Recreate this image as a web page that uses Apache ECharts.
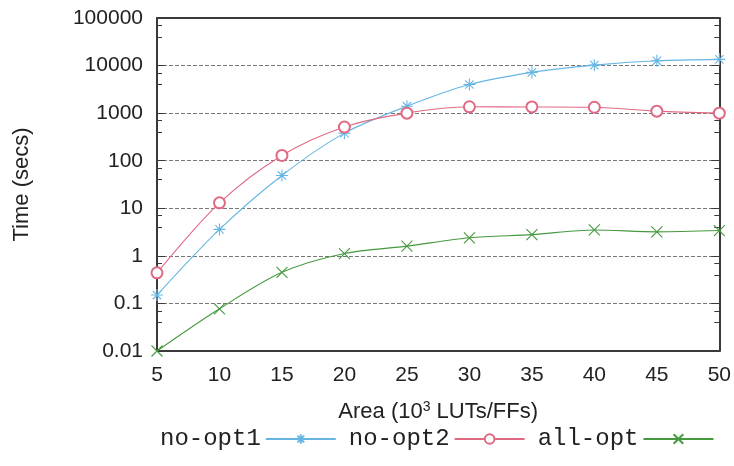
<!DOCTYPE html>
<html>
<head>
<meta charset="utf-8">
<script src="https://cdn.jsdelivr.net/npm/echarts@6/dist/echarts.min.js"></script>
<style>
  html, body { margin: 0; padding: 0; background: #fff; }
  #chart { width: 734px; height: 466px; }
</style>
</head>
<body>
<div id="chart"></div>
<script>
// Area in thousands of LUTs/FFs
const areas = [5, 10, 15, 20, 25, 30, 35, 40, 45, 50];

// Run time in seconds for each configuration
const noOpt1 = [0.15, 3.6, 49, 380, 1400, 4000, 7200, 10200, 12600, 13500];
const noOpt2 = [0.44, 13, 129, 510, 1000, 1360, 1350, 1330, 1100, 1000];
const allOpt = [0.01, 0.077, 0.45, 1.12, 1.6, 2.4, 2.8, 3.5, 3.2, 3.4];

const seriesNames = ['no-opt1', 'no-opt2', 'all-opt'];
const yTickValues = [0.01, 0.1, 1, 10, 100, 1000, 10000, 100000];

const colors = ['#66b6e4', '#e06a84', '#46993f'];
const asterisk = 'path://M5,0L5,10M0,5L10,5M1.5,1.5L8.5,8.5M1.5,8.5L8.5,1.5';
const cross = 'path://M0,0L10,10M0,10L10,0';

const pairs = ys => areas.map((x, i) => [x, ys[i]]);

const axisColor = '#3a3a3a';
const labelFont = { fontFamily: 'Liberation Sans, Arial, sans-serif', color: '#222' };

const chart = echarts.init(document.getElementById('chart'), null, { renderer: 'canvas' });

function lineSeries(name, data, color, symbol, size, stroked) {
  return {
    name: name,
    type: 'line',
    data: pairs(data),
    smooth: 0.3,
    symbol: symbol,
    symbolSize: size,
    showSymbol: true,
    lineStyle: { color: color, width: 1.1 },
    itemStyle: stroked
      ? { color: 'transparent', borderColor: color, borderWidth: 1.1 }
      : { color: color, borderColor: color, borderWidth: 1.1 },
    emphasis: { disabled: true },
    z: 3
  };
}

chart.setOption({
  animation: false,
  backgroundColor: '#fff',
  color: colors,
  grid: { left: 157, right: 14, top: 18, bottom: 115, containLabel: false },
  legend: {
    left: 155,
    top: 422,
    align: 'right',
    itemWidth: 70,
    itemHeight: 12,
    itemGap: 12,
    data: seriesNames,
    textStyle: {
      fontFamily: 'Liberation Mono, Courier New, monospace',
      fontSize: 24,
      color: '#222',
      padding: [0, 0, 0, 0]
    }
  },
  xAxis: [
    {
      type: 'value',
      min: 5,
      max: 50,
      interval: 5,
      position: 'bottom',
      name: 'Area (10{sup|3} LUTs/FFs)',
      nameLocation: 'middle',
      nameGap: 49,
      nameTextStyle: {
        fontFamily: 'Liberation Sans, Arial, sans-serif',
        fontSize: 22,
        color: '#222',
        rich: {
          sup: { fontSize: 14, verticalAlign: 'top', padding: [0, 0, 10, 0] }
        }
      },
      axisLine: { show: true, lineStyle: { color: axisColor, width: 2 } },
      axisTick: { show: false },
      axisLabel: Object.assign({ fontSize: 21, margin: 14 }, labelFont),
      splitLine: { show: false }
    },
    {
      type: 'value',
      min: 5,
      max: 50,
      position: 'top',
      axisLine: { show: true, lineStyle: { color: axisColor, width: 2 } },
      axisTick: { show: false },
      axisLabel: { show: false },
      splitLine: { show: false }
    }
  ],
  yAxis: [
    {
      type: 'log',
      logBase: 10,
      min: 0.01,
      max: 100000,
      splitNumber: 7,
      name: 'Time (secs)',
      nameLocation: 'middle',
      nameGap: 124,
      nameTextStyle: Object.assign({ fontSize: 22 }, labelFont),
      axisLine: { show: true, lineStyle: { color: axisColor, width: 2 } },
      axisTick: { show: true, inside: true, length: 8, lineStyle: { color: axisColor } },
      minorTick: { show: true, splitNumber: 3, length: 5, lineStyle: { color: axisColor } },
      axisLabel: Object.assign({
        fontSize: 21,
        margin: 14,
        formatter: v => {
          const match = yTickValues.find(t => Math.abs(Math.log10(t) - Math.log10(v)) < 1e-6);
          return match !== undefined ? String(match) : '';
        }
      }, labelFont),
      splitLine: { show: true, lineStyle: { color: '#777', width: 1, type: [4, 2] } }
    },
    {
      type: 'log',
      logBase: 10,
      min: 0.01,
      max: 100000,
      splitNumber: 7,
      position: 'right',
      axisLine: { show: true, lineStyle: { color: axisColor, width: 2 } },
      axisTick: { show: true, inside: true, length: 8, lineStyle: { color: axisColor } },
      minorTick: { show: true, splitNumber: 3, length: 5, lineStyle: { color: axisColor } },
      axisLabel: { show: false },
      splitLine: { show: false }
    }
  ],
  series: [
    lineSeries(seriesNames[0], noOpt1, colors[0], asterisk, 12, true),
    lineSeries(seriesNames[1], noOpt2, colors[1], 'emptyCircle', 11, false),
    lineSeries(seriesNames[2], allOpt, colors[2], cross, 11, true)
  ]
});
</script>
</body>
</html>
